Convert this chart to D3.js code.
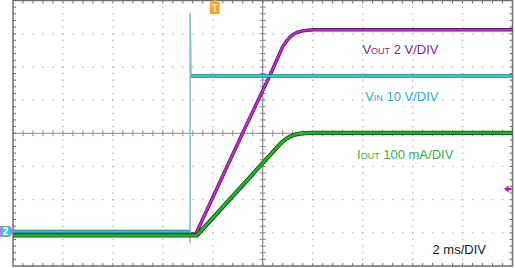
<!DOCTYPE html>
<html>
<head>
<meta charset="utf-8">
<script src="https://cdn.jsdelivr.net/npm/d3@7"></script>
<style>
body { margin: 0; background: #fff; }
svg { display: block; font-family: "Liberation Sans", Arial, sans-serif; }
</style>
</head>
<body>
<svg id="scope" width="515" height="268"></svg>
<script>
// scope settings
const xDivs = 10, yDivs = 8, msPerDiv = 2;
const triggerTime = 8.08; // ms from left edge

// VOUT, 2 V/div
const voutTime  = [0, 7.32, 9.2, 10.3, 10.8, 10.95, 11.1, 11.25, 11.4, 11.6, 11.8, 12.05, 12.4, 20];
const voutVolts = [0, 0, 6.1, 9.6, 11.3, 11.62, 11.88, 12.05, 12.16, 12.24, 12.28, 12.3, 12.3, 12.3];

// VIN, 10 V/div (low level, switching edge with overshoot, settled level)
const vinLowTime   = [0, 7.09];
const vinLowVolts  = [0, 0];
const vinEdgeTime  = [7.09, 7.09, 7.09, 7.13];
const vinEdgeVolts = [-3.5, 0, 65.8, 47.5];
const vinHighTime  = [7.12, 20];
const vinHighVolts = [46.85, 46.85];

// IOUT, 100 mA/div
const ioutTime = [0, 7.36, 10.0, 10.7, 10.85, 11.0, 11.15, 11.3, 11.5, 11.7, 12.0, 20];
const ioutMa   = [0, 0, 218, 276, 286, 294, 300, 304, 307, 308.5, 309, 309];

// per channel: units per division, ground offset in divisions
const channels = {
    vout: { perDiv: 2,   offset: -3.035 },
    vin:  { perDiv: 10,  offset: -2.96 },
    iout: { perDiv: 100, offset: -3.08 }
};

const svg = d3.select("#scope");
const x = d3.scaleLinear().domain([0, xDivs * msPerDiv]).range([13, 512.5]);
const y = d3.scaleLinear().domain([-yDivs / 2, yDivs / 2]).range([266, 0.5]);

const minorX = d3.range(1, xDivs * 5).map(i => i * msPerDiv / 5);
const minorY = d3.range(1, yDivs * 5).map(i => -yDivs / 2 + i / 5);

// graticule dots
const grid = svg.append("g").attr("fill", "#b4b4b4");
d3.range(1, xDivs).filter(i => i != xDivs / 2).forEach(i => {
    grid.selectAll(null).data(minorY).enter().append("rect")
        .attr("x", x(i * msPerDiv) - 0.6).attr("y", d => y(d) - 0.6)
        .attr("width", 1.3).attr("height", 1.3);
});
d3.range(1, yDivs).filter(i => i != yDivs / 2).forEach(i => {
    grid.selectAll(null).data(minorX).enter().append("rect")
        .attr("x", d => x(d) - 0.6).attr("y", y(-yDivs / 2 + i) - 0.6)
        .attr("width", 1.3).attr("height", 1.3);
});

// center axes with ticks
const axes = svg.append("g").attr("stroke", "#888").attr("stroke-width", 1.2);
const cx = x(xDivs * msPerDiv / 2), cy = y(0);
axes.append("line").attr("x1", cx).attr("x2", cx).attr("y1", y(-4)).attr("y2", y(4));
axes.append("line").attr("x1", x(0)).attr("x2", x(20)).attr("y1", cy).attr("y2", cy);
axes.selectAll(null).data(minorY).enter().append("line")
    .attr("x1", cx - 3).attr("x2", cx + 3).attr("y1", d => y(d)).attr("y2", d => y(d))
    .attr("stroke-width", 1);
axes.selectAll(null).data(minorX).enter().append("line")
    .attr("y1", cy - 3).attr("y2", cy + 3).attr("x1", d => x(d)).attr("x2", d => x(d))
    .attr("stroke-width", 1);

// frame with inward ticks
const frame = svg.append("g").attr("stroke", "#6e6e6e");
frame.append("rect")
    .attr("x", x(0)).attr("y", y(4))
    .attr("width", x(20) - x(0)).attr("height", y(-4) - y(4))
    .attr("fill", "none").attr("stroke-width", 1.5);
frame.selectAll(null).data(minorY).enter().append("line")
    .attr("x1", x(0)).attr("x2", x(0) + 3).attr("y1", d => y(d)).attr("y2", d => y(d));
frame.selectAll(null).data(minorY).enter().append("line")
    .attr("x1", x(20) - 3).attr("x2", x(20)).attr("y1", d => y(d)).attr("y2", d => y(d));
frame.selectAll(null).data(minorX).enter().append("line")
    .attr("y1", y(-4) - 3).attr("y2", y(-4)).attr("x1", d => x(d)).attr("x2", d => x(d));
frame.selectAll(null).data(minorX).enter().append("line")
    .attr("y1", y(4)).attr("y2", y(4) + 3).attr("x1", d => x(d)).attr("x2", d => x(d));

// traces
function tracePath(ch) {
    return d3.line()
        .x(d => x(d[0]))
        .y(d => y(d[1] / ch.perDiv + ch.offset));
}

function drawTrace(times, values, ch, edge, core, w) {
    const pts = times.map((t, i) => [t, values[i]]);
    const p = tracePath(ch)(pts);
    svg.append("path").attr("d", p).attr("fill", "none")
        .attr("stroke", edge).attr("stroke-width", w + 1.6).attr("stroke-linejoin", "round");
    svg.append("path").attr("d", p).attr("fill", "none")
        .attr("stroke", core).attr("stroke-width", w).attr("stroke-linejoin", "round");
}

drawTrace(voutTime, voutVolts, channels.vout, "#5e1a62", "#c22ccc", 1.9);

// fast VIN edge drawn dim and thin
svg.append("path")
    .attr("d", tracePath(channels.vin)(vinEdgeTime.map((t, i) => [t, vinEdgeVolts[i]])))
    .attr("fill", "none").attr("stroke", "#8cc2c2").attr("stroke-width", 1.6);
drawTrace(vinLowTime, vinLowVolts, channels.vin, "#167a84", "#2cc6da", 2);
drawTrace(vinHighTime, vinHighVolts, channels.vin, "#167a84", "#2cc6da", 2);

drawTrace(ioutTime, ioutMa, channels.iout, "#0c4c10", "#22b22a", 2.6);

// trigger marker
const trig = svg.append("g").attr("transform", `translate(${x(triggerTime)},0)`);
trig.append("path").attr("d", "M-2,0 L2,0 L2,2 L4.5,2 Q5,2 5,3 L5,13 Q5,14 4,14 L-4,14 Q-5,14 -5,13 L-5,3 Q-5,2 -4.5,2 L-2,2 Z")
    .attr("fill", "#f4a32c");
trig.append("text").attr("x", 0).attr("y", 12).attr("text-anchor", "middle")
    .attr("font-size", 10).attr("font-weight", "bold").attr("fill", "#fde6bf")
    .text("T");

// channel 2 ground marker
const ch2y = y(channels.vin.offset);
svg.append("path")
    .attr("d", `M0.5,${ch2y - 5} L10,${ch2y - 5} L13,${ch2y} L10,${ch2y + 5} L0.5,${ch2y + 5} Z`)
    .attr("fill", "#3cc4dc").attr("stroke", "#b468c4").attr("stroke-width", 0.8);
svg.append("text").attr("x", 5.6).attr("y", ch2y + 3.6).attr("text-anchor", "middle")
    .attr("font-size", 10).attr("font-weight", "bold").attr("fill", "#fff").text("2");

// trigger level marker on the right
const lvlY = y(-1.68);
svg.append("path")
    .attr("d", `M504,${lvlY} L508.5,${lvlY - 3.5} L508.5,${lvlY - 1.2} L511.5,${lvlY - 1.2} L511.5,${lvlY + 1.2} L508.5,${lvlY + 1.2} L508.5,${lvlY + 3.5} Z`)
    .attr("fill", "#a223b2");

// labels
const labels = [
    { main: "V", sub: "OUT", rest: " 2 V/DIV", color: "#7e2c8c", x: 438.5, y: 53.5, anchor: "end" },
    { main: "V", sub: "IN", rest: " 10 V/DIV", color: "#2aaed0", x: 438.5, y: 100.5, anchor: "end" },
    { main: "I", sub: "OUT", rest: " 100 mA/DIV", color: "#2db24c", x: 357, y: 158.5, anchor: "start" },
    { main: "2 ms/DIV", sub: "", rest: "", color: "#1a1a1a", x: 432.5, y: 254, anchor: "start" }
];
labels.forEach(l => {
    const t = svg.append("text").attr("x", l.x).attr("y", l.y)
        .attr("text-anchor", l.anchor).attr("fill", l.color).attr("font-size", 13);
    t.append("tspan").text(l.main);
    if (l.sub) t.append("tspan").attr("font-size", 9).text(l.sub);
    if (l.rest) t.append("tspan").text(l.rest);
});
</script>
</body>
</html>
